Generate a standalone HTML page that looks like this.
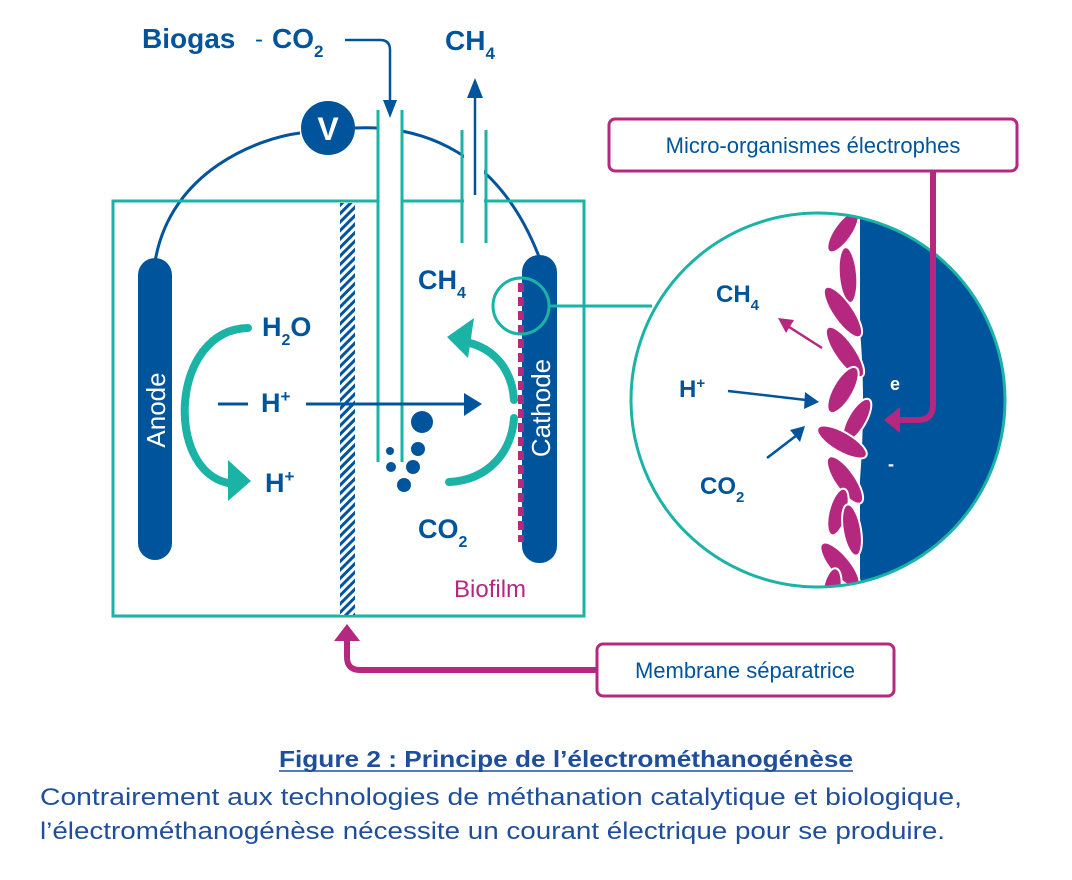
<!DOCTYPE html>
<html><head><meta charset="utf-8"><style>
html,body{margin:0;padding:0;background:#fff;width:1072px;height:880px;overflow:hidden}
svg{display:block;font-family:"Liberation Sans",sans-serif}
</style></head><body>
<svg width="1072" height="880" viewBox="0 0 1072 880" xmlns="http://www.w3.org/2000/svg">
<defs>
<pattern id="h" width="6" height="6" patternUnits="userSpaceOnUse" patternTransform="rotate(45)">
<rect width="6" height="6" fill="#fff"/><rect width="3" height="6" fill="#00549C"/></pattern>
<clipPath id="cc"><circle cx="818" cy="400" r="187"/></clipPath>
</defs>
<!-- wire arc -->
<path d="M155 262 C170 170 260 138 300 133 M355 128 C420 125 500 150 541 262" fill="none" stroke="#00549C" stroke-width="3"/>
<circle cx="328" cy="128" r="27" fill="#00549C"/>
<text x="328" y="140" font-size="32" font-weight="bold" fill="#fff" text-anchor="middle">V</text>
<!-- box -->
<rect x="113" y="201" width="471" height="415" fill="none" stroke="#1AB3A6" stroke-width="3"/>
<rect x="340" y="203" width="15" height="412" fill="url(#h)"/>
<!-- tubes -->
<rect x="379" y="110" width="22" height="100" fill="#fff"/>
<line x1="378" y1="110" x2="378" y2="462" stroke="#1AB3A6" stroke-width="3"/>
<line x1="402" y1="110" x2="402" y2="462" stroke="#1AB3A6" stroke-width="3"/>
<rect x="464" y="130" width="20" height="75" fill="#fff"/>
<line x1="462" y1="130" x2="462" y2="243" stroke="#1AB3A6" stroke-width="3"/>
<line x1="486" y1="130" x2="486" y2="243" stroke="#1AB3A6" stroke-width="3"/>
<path d="M345 40 H380 Q390 40 390 50 V100" fill="none" stroke="#00549C" stroke-width="2.5"/>
<polygon points="383,100 397,100 390,118" fill="#00549C"/>
<line x1="475" y1="195" x2="475" y2="95" stroke="#00549C" stroke-width="2.5"/>
<polygon points="467,98 483,98 475,78" fill="#00549C"/>
<!-- top labels -->
<text x="142" y="48" font-size="28" font-weight="bold" fill="#00549C">Biogas</text>
<text x="255" y="47" font-size="24" fill="#00549C">-</text>
<text x="272" y="48" font-size="28" font-weight="bold" fill="#00549C">CO<tspan font-size="17" dy="9">2</tspan></text>
<text x="445" y="50" font-size="28" font-weight="bold" fill="#00549C">CH<tspan font-size="17" dy="9">4</tspan></text>
<!-- electrodes -->
<rect x="138" y="258" width="34" height="302" rx="17" fill="#00549C"/>
<rect x="522" y="255" width="35" height="308" rx="17" fill="#00549C"/>
<text transform="translate(165 410) rotate(-90)" font-size="26" fill="#fff" text-anchor="middle">Anode</text>
<text transform="translate(550 408) rotate(-90)" font-size="26" fill="#fff" text-anchor="middle">Cathode</text>
<line x1="521" y1="283" x2="521" y2="542" stroke="#B5287F" stroke-width="6" stroke-dasharray="9 5"/>
<circle cx="521" cy="306" r="28" fill="none" stroke="#1AB3A6" stroke-width="3"/>
<line x1="549" y1="306" x2="652" y2="306" stroke="#1AB3A6" stroke-width="3"/>
<!-- left teal arc -->
<path d="M248 328 C170 330 165 470 228 483" fill="none" stroke="#1AB3A6" stroke-width="8" stroke-linecap="round"/>
<polygon points="228,460 251,481 228,501" fill="#1AB3A6"/>
<!-- right teal arc -->
<path d="M449 482 C490 480 512 450 514 418 M514 400 C512 370 495 350 470 343" fill="none" stroke="#1AB3A6" stroke-width="8" stroke-linecap="round"/>
<polygon points="447,337 474,318 468,358" fill="#1AB3A6"/>
<!-- labels inside -->
<text x="262" y="336" font-size="27" font-weight="bold" fill="#00549C">H<tspan font-size="16" dy="9">2</tspan><tspan dy="-9">O</tspan></text>
<text x="261" y="412" font-size="27" font-weight="bold" fill="#00549C">H<tspan font-size="17" dy="-10">+</tspan></text>
<text x="265" y="492" font-size="27" font-weight="bold" fill="#00549C">H<tspan font-size="17" dy="-10">+</tspan></text>
<text x="418" y="289" font-size="27" font-weight="bold" fill="#00549C">CH<tspan font-size="16" dy="9">4</tspan></text>
<text x="418" y="538" font-size="27" font-weight="bold" fill="#00549C">CO<tspan font-size="16" dy="9">2</tspan></text>
<text x="454" y="597" font-size="24" fill="#B5287F">Biofilm</text>
<line x1="218" y1="404" x2="248" y2="404" stroke="#00549C" stroke-width="3"/>
<line x1="306" y1="404" x2="466" y2="404" stroke="#00549C" stroke-width="3"/>
<polygon points="464,393 482,404 464,416" fill="#00549C"/>
<g fill="#00549C"><circle cx="422" cy="422" r="11"/><circle cx="418" cy="449" r="7"/><circle cx="413" cy="467" r="7"/><circle cx="404" cy="485" r="7"/><circle cx="390" cy="451" r="4"/><circle cx="391" cy="467" r="5"/></g>
<!-- zoom circle -->
<g clip-path="url(#cc)">
<path d="M860 200 L860 330 Q866 400 860 480 L860 600 L1010 600 L1010 200 Z" fill="#00549C"/>
<g fill="#B5287F" stroke="#fff" stroke-width="2">
<ellipse cx="843" cy="232" rx="9" ry="24" transform="rotate(35 843 232)"/>
<ellipse cx="848" cy="275" rx="9" ry="28" transform="rotate(-5 848 275)"/>
<ellipse cx="843" cy="312" rx="10" ry="30" transform="rotate(-35 843 312)"/>
<ellipse cx="845" cy="352" rx="10" ry="30" transform="rotate(-35 845 352)"/>
<ellipse cx="843" cy="390" rx="10" ry="26" transform="rotate(30 843 390)"/>
<ellipse cx="857" cy="420" rx="9" ry="24" transform="rotate(30 857 420)"/>
<ellipse cx="842" cy="442" rx="10" ry="28" transform="rotate(-60 842 442)"/>
<ellipse cx="845" cy="480" rx="10" ry="28" transform="rotate(-35 845 480)"/>
<ellipse cx="838" cy="512" rx="9" ry="24" transform="rotate(15 838 512)"/>
<ellipse cx="852" cy="530" rx="9" ry="26" transform="rotate(-10 852 530)"/>
<ellipse cx="840" cy="565" rx="10" ry="28" transform="rotate(-40 840 565)"/>
<ellipse cx="832" cy="590" rx="9" ry="22" transform="rotate(10 832 590)"/>
</g>
</g>
<circle cx="818" cy="400" r="187" fill="none" stroke="#1AB3A6" stroke-width="3"/>
<text x="716" y="302" font-size="24" font-weight="bold" fill="#00549C">CH<tspan font-size="15" dy="8">4</tspan></text>
<text x="679" y="397" font-size="24" font-weight="bold" fill="#00549C">H<tspan font-size="15" dy="-9">+</tspan></text>
<text x="700" y="494" font-size="24" font-weight="bold" fill="#00549C">CO<tspan font-size="15" dy="8">2</tspan></text>
<text x="890" y="390" font-size="18" font-weight="bold" fill="#fff">e</text>
<text x="888" y="470" font-size="18" font-weight="bold" fill="#fff">-</text>
<line x1="822" y1="348" x2="786" y2="325" stroke="#B5287F" stroke-width="2.5"/>
<polygon points="778,318 794,320 786,333" fill="#B5287F"/>
<line x1="728" y1="391" x2="806" y2="400" stroke="#00549C" stroke-width="2.5"/>
<polygon points="805,392 819,402 804,409" fill="#00549C"/>
<line x1="767" y1="458" x2="797" y2="435" stroke="#00549C" stroke-width="2.5"/>
<polygon points="790,430 805,426 800,442" fill="#00549C"/>
<!-- magenta callouts -->
<rect x="609" y="119" width="408" height="52" rx="6" fill="#fff" stroke="#B5287F" stroke-width="3"/>
<text x="813" y="153" font-size="22" fill="#00549C" text-anchor="middle">Micro-organismes électrophes</text>
<path d="M933 171 V405 Q933 420 918 420 H898" fill="none" stroke="#B5287F" stroke-width="6"/>
<polygon points="884,420 900,407 900,433" fill="#B5287F"/>
<rect x="597" y="644" width="297" height="52" rx="6" fill="#fff" stroke="#B5287F" stroke-width="3"/>
<text x="745" y="678" font-size="22" fill="#00549C" text-anchor="middle">Membrane séparatrice</text>
<path d="M597 670 H360 Q347 670 347 657 V640" fill="none" stroke="#B5287F" stroke-width="6"/>
<polygon points="334,641 347,624 360,641" fill="#B5287F"/>
<!-- caption -->
<text x="279" y="767" font-size="23" font-weight="bold" fill="#1F4E9A" textLength="574" lengthAdjust="spacingAndGlyphs">Figure 2 : Principe de l’électrométhanogénèse</text>
<line x1="279" y1="771" x2="853" y2="771" stroke="#1F4E9A" stroke-width="1.5"/>
<text x="40" y="805" font-size="24" fill="#1F4E9A" textLength="922" lengthAdjust="spacingAndGlyphs">Contrairement aux technologies de méthanation catalytique et biologique,</text>
<text x="40" y="839" font-size="24" fill="#1F4E9A" textLength="905" lengthAdjust="spacingAndGlyphs">l’électrométhanogénèse nécessite un courant électrique pour se produire.</text>
</svg>
</body></html>
